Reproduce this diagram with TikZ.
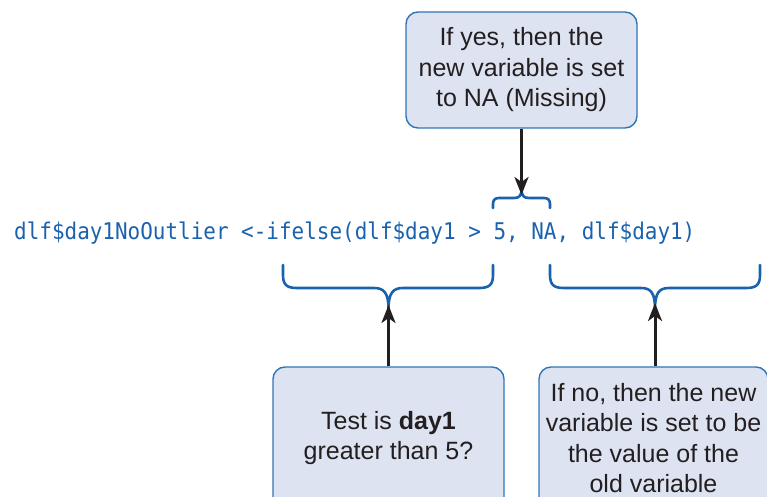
\documentclass[tikz,border=0pt]{standalone}
\usepackage{fontspec}
\setmainfont{Liberation Sans}
\newfontfamily\codefont[FakeStretch=0.911]{DejaVu Sans Mono}
\usetikzlibrary{arrows.meta}
\definecolor{codeblue}{HTML}{1A62AE}
\definecolor{boxfill}{HTML}{DDE3F1}
\definecolor{boxline}{HTML}{2F74B8}
\definecolor{inkdark}{HTML}{231F20}
\tikzset{
  infobox/.style={draw=boxline, line width=1.4pt, fill=boxfill, rounded corners=12pt,
    minimum width=231pt, inner sep=0pt, align=center, text=inkdark,
    font=\fontsize{25}{30.5}\selectfont},
  bracepath/.style={draw=codeblue, line width=2.6pt, line cap=round},
  pointer/.style={draw=inkdark, line width=3pt, -{Stealth[length=18pt,width=14pt,inset=5pt]}}
}
\begin{document}
\begin{tikzpicture}[x=1pt,y=-1pt]
\useasboundingbox (0,0) rectangle (767,497);
\clip (0,0) rectangle (767,497);

% boxes
\node[infobox, minimum height=116pt] (top) at (521.5,70) {If yes, then the\\new variable is set\\to NA (Missing)};
\node[infobox, minimum height=142pt] (left) at (388.5,438) {Test is \textbf{day1}\\greater than 5?};
\node[infobox, minimum height=142pt, minimum width=229pt] (right) at (653.5,438) {If no, then the new\\variable is set to be\\the value of the\\old variable};

% code line
\node[anchor=base west, inner sep=0pt, text=codeblue, font=\codefont\fontsize{23}{27}\selectfont] (code) at (14,239) {dlf\$day1NoOutlier <-ifelse(dlf\$day1 > 5, NA, dlf\$day1)};

% brace tips
\coordinate (tipS) at (521.5,189);
\coordinate (tipL) at (388.5,309);
\coordinate (tipR) at (655,309);

% small brace (over "5,")
\path[bracepath] (493,208) -- (493,204) .. controls (493,200) and (495,198) .. (499,198)
  -- (514,198) .. controls (519,198) and (521.5,196) .. (tipS)
  .. controls (521.5,196) and (524,198) .. (529,198) -- (544,198)
  .. controls (548,198) and (550,200) .. (550,204) -- (550,208);

% lower left brace
\path[bracepath] (283,265) -- (283,275) .. controls (283,285) and (287,288) .. (297,288)
  -- (374,288) .. controls (384,288) and (388.5,293) .. (tipL)
  .. controls (388.5,293) and (393,288) .. (403,288) -- (479,288)
  .. controls (489,288) and (493,285) .. (493,275) -- (493,265);

% lower right brace
\path[bracepath] (550,265) -- (550,275) .. controls (550,285) and (554,288) .. (564,288)
  -- (641,288) .. controls (651,288) and (655,293) .. (tipR)
  .. controls (655,293) and (659,288) .. (669,288) -- (746,288)
  .. controls (756,288) and (760,285) .. (760,275) -- (760,265);

% arrows
\draw[pointer] (top.south) -- ([yshift=-6pt]tipS);
\draw[pointer] (left.north) -- ([yshift=4pt]tipL);
\draw[pointer] (right.north -| tipR) -- ([yshift=6pt]tipR);
\end{tikzpicture}
\end{document}
